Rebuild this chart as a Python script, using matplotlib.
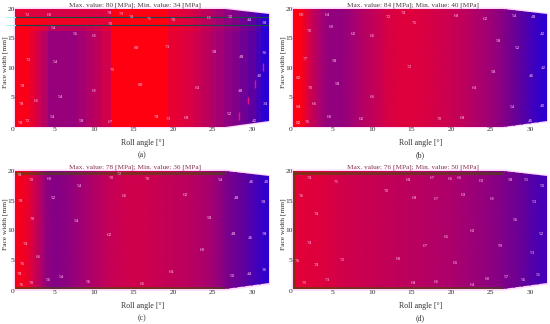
import numpy as np
import matplotlib
matplotlib.use("Agg")
import matplotlib.pyplot as plt
from matplotlib.colors import LinearSegmentedColormap
from matplotlib.patches import Polygon

plt.rcParams["font.family"] = ["Liberation Serif", "DejaVu Serif"]

W, H = 550, 324
panel_names = ["(a)", "(b)", "(c)", "(d)"]
max_values = [80, 84, 78, 76]
min_values = [34, 40, 36, 50]
color_low = [34, 40, 36, 44]
color_high = [80, 84, 80, 84]
title_colors = ["#4a3a40", "#4a3a40", "#803050", "#803050"]
x_ticks = [5, 10, 15, 20, 25, 30]
y_ticks = [0, 5, 10, 15, 20]
outline_x = [0, 26.6, 32.1, 32.1, 26.6, 0]
outline_y = [0, 0, 1.0, 19.1, 20, 20]

a_edges = [0, 1.8, 2.5, 3.3, 4.2, 8.0, 9.0, 10.0, 11.0, 12.2, 19.4, 20.5, 21.5, 22.5, 23.5, 24.5, 25.5, 26.5, 27.5, 28.5, 29.5, 30.5, 31.2, 32.2]
a_rows = [0, 16.3, 17.3, 18.6, 20]
a_low = [78, 72, 66, 60, 54, 56, 59, 62, 66, 80, 72, 70, 68, 65, 62, 59, 56, 53, 50, 47, 44, 40, 35]
a_high = [78, 75, 72, 68, 62, 62, 64, 66, 70, 80, 74, 72, 70, 67, 64, 61, 58, 55, 52, 49, 46, 42, 35]
a_mid = [79, 78, 77, 76, 75, 74, 73, 72, 71, 80, 72, 70, 68, 65, 62, 59, 56, 53, 50, 47, 44, 40, 35]
a_top = [72, 69, 68, 68, 67, 68, 68, 68, 69, 79, 72, 70, 68, 65, 62, 59, 56, 53, 50, 47, 44, 40, 35]
a_mark_x = [28.4, 29.5, 30.4, 31.4]
a_mark_y0 = [1.1, 3.9, 6.5, 9.4]
a_mark_y1 = [2.5, 5.1, 8.0, 10.8]
a_lab_x = [0.7, 1.6, 0.8, 0.9, 1.7, 1.6, 4.4, 2.7, 4.7, 5.7, 5.1, 4.8, 7.6, 10, 10, 8.4, 12.1, 12.3, 11.9, 12, 13.4, 14.7, 17, 15.4, 15.9, 17.9, 19.4, 19.3, 20, 21.7, 23.1, 24.6, 25.2, 27.3, 27.1, 28.7, 28.5, 29.7, 31.6, 31.6, 30.9, 31.7, 30.3]
a_lab_y = [0.7, 1.0, 3.8, 7.0, 11.4, 19.0, 19.0, 4.4, 1.7, 5.1, 11.0, 16.8, 15.8, 15.4, 6.0, 0.9, 0.8, 9.7, 19.3, 17.5, 19.1, 18.7, 18.3, 13.3, 7.1, 1.7, 1.3, 13.5, 18.2, 1.5, 6.6, 18.4, 12.7, 18.6, 2.1, 11.8, 6.0, 18.2, 17.7, 12.5, 8.6, 3.9, 0.9]
a_lab_v = [78, 72, 78, 78, 72, 72, 60, 66, 54, 54, 54, 54, 56, 61, 61, 58, 67, 75, 78, 70, 79, 78, 71, 80, 80, 78, 73, 73, 70, 68, 63, 61, 58, 52, 52, 48, 48, 44, 38, 36, 40, 34, 42]

b_edges = [0, 1, 1.5, 2, 2.5, 3, 3.5, 4, 5, 6, 7, 8, 9, 10, 11, 12, 14, 16, 18, 20, 22, 23, 24, 25, 26, 27, 28, 29, 30, 31, 32.2]
b_rows = [0, 20]
b_low = [84, 83, 78, 72, 68, 65, 62, 60, 58, 58, 60, 62, 65, 67, 69, 72, 74, 73, 71, 69, 66, 64, 62, 60, 58, 55, 52, 49, 46, 43, 41]
b_lab_x = [1.1, 4.3, 12.1, 14, 15.4, 20.7, 24.4, 28, 30.4, 2, 4.9, 7.6, 10, 26, 28.4, 31.6, 1.6, 5.3, 14.7, 25.4, 30.2, 31.7, 0.7, 2.2, 5.6, 22.9, 2.7, 10, 0.7, 27.8, 31.6, 0.7, 1.8, 4.6, 8.6, 18.5, 21.5, 30.1]
b_lab_y = [19, 19, 18.7, 19.4, 17.6, 18.8, 18.3, 18.8, 18.6, 16.3, 17, 15.8, 15.4, 14.6, 13.3, 15.8, 11.5, 11.1, 10.1, 9.3, 8.6, 10, 8.3, 6.5, 7.2, 6.5, 3.9, 5.1, 3.3, 3.3, 3.5, 0.7, 0.8, 1.6, 1.3, 1.3, 1.5, 0.9]
b_lab_v = [80, 64, 72, 74, 75, 68, 62, 54, 48, 70, 60, 62, 66, 58, 52, 42, 77, 58, 72, 58, 46, 42, 82, 70, 58, 64, 66, 66, 84, 54, 40, 82, 76, 60, 62, 70, 68, 46]

c_edges = [0, 1, 1.5, 2.2, 3, 3.5, 4, 5, 6, 7, 8, 9, 10, 11, 12, 14, 16, 18, 20, 22, 24, 25, 26, 27, 28, 29, 30, 31, 32.2]
c_rows = [0, 20]
c_low = [78, 76, 74, 68, 62, 58, 54, 52, 53, 54, 56, 58, 60, 62, 64, 66, 66, 65, 63, 62, 59, 57, 54, 50, 48, 46, 43, 40, 37]
c_lab_x = [0.5, 2, 4.3, 12.2, 13.2, 16.8, 26, 30, 31.8, 8.1, 0.7, 4.8, 13.9, 21.6, 28.1, 31.5, 2.2, 7.8, 24.6, 27.7, 29.8, 31.6, 1.3, 12, 23.7, 2.9, 0.9, 0.5, 4.2, 5.9, 9.3, 16.1, 19.8, 27.5, 29.7, 31.6, 0.8, 2]
c_lab_y = [19.4, 18.5, 18.6, 18.9, 19.5, 18.6, 18.5, 18.1, 18.1, 17.5, 15, 15.5, 15.8, 16, 15.5, 14.8, 11.9, 11.5, 12.1, 9.3, 8.6, 9.4, 7.6, 9.1, 6.6, 5.5, 4.3, 2.6, 1.6, 2.1, 1.3, 0.9, 2.9, 2.2, 2.6, 3.2, 0.8, 1]
c_lab_v = [78, 70, 60, 70, 72, 70, 54, 46, 40, 54, 78, 52, 66, 62, 48, 38, 70, 54, 58, 48, 46, 38, 74, 62, 60, 66, 76, 78, 56, 54, 56, 66, 64, 50, 44, 36, 76, 70]

d_edges = [0, 2, 4, 6, 8, 10, 12, 14, 16, 18, 20, 22, 24, 25, 26, 27, 28, 29, 30, 31, 32.2]
d_rows = [0, 20]
d_low = [76, 75, 74, 72, 71, 70, 69, 68, 67, 66, 65, 63, 61, 60, 59, 57, 56, 54, 52, 50, 49]
d_lab_x = [2.1, 5.5, 14.6, 17.6, 19.9, 21, 23.8, 27.5, 29.5, 31.6, 1, 11.8, 15.4, 18.1, 21.6, 25.2, 30.6, 2.9, 28.2, 22.7, 19.4, 31.4, 2, 16.8, 26.2, 30.3, 0.5, 3, 6.2, 13.3, 20.5, 1.4, 4.3, 15.2, 18.1, 22.7, 24.6, 27, 29.1, 31]
d_lab_y = [18.9, 18.1, 18.5, 18.8, 18.7, 18.8, 18.3, 18.5, 18.4, 17.4, 15.8, 16.6, 15.4, 15.3, 15.9, 15.3, 14.8, 12.7, 11.7, 9.8, 8.8, 9.3, 7.8, 7.3, 7.4, 6.2, 4.8, 4.1, 4.9, 5.2, 4.4, 1, 1.6, 1, 1.2, 0.8, 1.7, 2.1, 1.6, 2.5]
d_lab_v = [74, 71, 68, 67, 66, 66, 63, 58, 55, 50, 76, 70, 68, 67, 63, 61, 53, 74, 56, 63, 65, 52, 74, 67, 59, 53, 76, 74, 72, 69, 65, 75, 73, 68, 66, 64, 60, 57, 56, 51]

cmap = LinearSegmentedColormap.from_list("rb", ["#2400d8", "#660098", "#a80070", "#dc0040", "#ff0010"])

px_per_deg = 7.9
axes_w = 32.2 * px_per_deg
boxes = [(15, 9, 126.7), (293, 9, 126.7), (15, 171, 289.3), (293, 171, 289.3)]

fig = plt.figure(figsize=(W / 100, H / 100), dpi=100, facecolor="white")

edges_all = [a_edges, b_edges, c_edges, d_edges]
rows_all = [a_rows, b_rows, c_rows, d_rows]
grids_all = [[a_low, a_high, a_mid, a_top], [b_low, b_low], [c_low, c_low], [d_low, d_low]]
labs_all = [(a_lab_x, a_lab_y, a_lab_v), (b_lab_x, b_lab_y, b_lab_v),
            (c_lab_x, c_lab_y, c_lab_v), (d_lab_x, d_lab_y, d_lab_v)]

for i, (left, top, bottom) in enumerate(boxes):
    ax = fig.add_axes([left / W, 1 - bottom / H, axes_w / W, (bottom - top) / H])
    ax.set_xlim(0, 32.2)
    ax.set_ylim(0, 20)
    ax.patch.set_alpha(0)
    for s in ax.spines.values():
        s.set_visible(False)

    mesh = ax.pcolormesh(edges_all[i], rows_all[i], np.array(grids_all[i]), cmap=cmap,
                         vmin=color_low[i], vmax=color_high[i],
                         shading="flat" if i == 0 else "gouraud", zorder=2)
    outline = Polygon(np.column_stack([outline_x, outline_y]), closed=True, transform=ax.transData,
                      facecolor="none", edgecolor="none")
    ax.add_patch(outline)
    mesh.set_clip_path(outline)

    halo = Polygon(np.column_stack([outline_x, outline_y]), closed=True, facecolor="none",
                   edgecolor="#ffd8fa", lw=2.2, zorder=1, clip_on=False)
    ax.add_patch(halo)

    if i == 0:
        for yy in [a_rows[2], a_rows[3]]:
            line, = ax.plot([0, 32.1], [yy, yy], color="#1a4a48", lw=0.8, zorder=3)
            line.set_clip_path(outline)
            ax.plot([-1.2, 0], [yy, yy], color="#a8f4ff", lw=0.8, zorder=3, clip_on=False)
        ax.vlines(a_mark_x, a_mark_y0, a_mark_y1, color="#e8108c", lw=1.0, zorder=3)
    if i >= 2:
        for yy in [0.25, 19.7]:
            ax.plot([0, 26.6], [yy, yy], color="#405000", alpha=0.6, lw=2.0, zorder=3, solid_capstyle="butt")
    if i == 3:
        ax.plot([0.1, 0.1], [0, 20], color="#405000", alpha=0.6, lw=1.0, zorder=3)

    xs, ys, vs = labs_all[i]
    for xx, yy, vv in zip(xs, ys, vs):
        ax.text(xx, yy, str(vv), color="#ffb8ec", fontsize=3.8, ha="center", va="center", zorder=4)

    ax.set_xticks(x_ticks)
    ax.set_yticks(y_ticks)
    ax.tick_params(length=0, pad=0.2, labelsize=5.4, colors="#303030")
    ax.get_yticklabels()[0].set_verticalalignment("top")
    ax.set_xlabel("Roll angle [°]", fontsize=5.7, color="#303030")
    ax.xaxis.set_label_coords(0.5, -0.105)
    ax.set_ylabel("Face width [mm]", fontsize=5.4, color="#303030")
    ax.yaxis.set_label_coords(-0.029, 0.55)
    ax.text(0.47, 1.005, f"Max. value: {max_values[i]} [MPa]; Min. value: {min_values[i]} [MPa]",
            transform=ax.transAxes, fontsize=5.2, color=title_colors[i], ha="center", va="bottom")
    ax.text(0.5, -0.245, panel_names[i], transform=ax.transAxes, fontsize=5.7, color="#303030",
            ha="center", va="center")

fig.savefig("out.png", dpi=100)
